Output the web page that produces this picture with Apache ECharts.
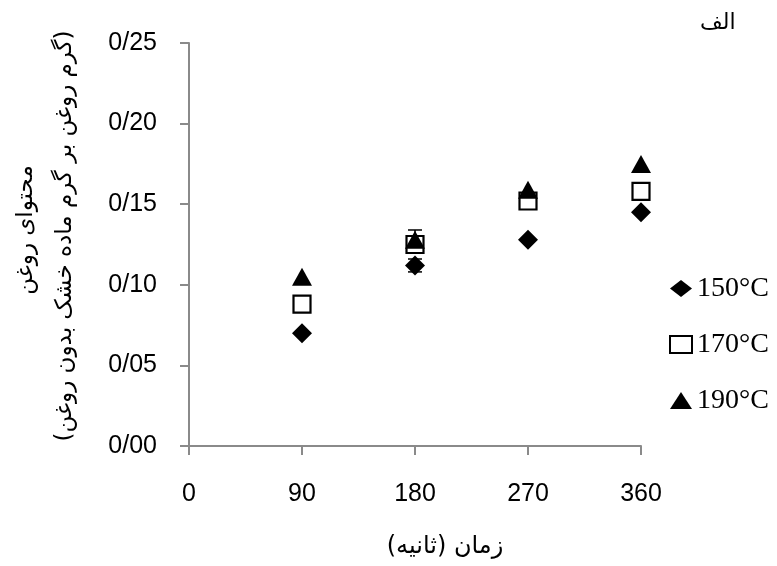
<!DOCTYPE html>
<html>
<head>
<meta charset="utf-8">
<script src="https://cdn.jsdelivr.net/npm/echarts@6/dist/echarts.min.js"></script>
<style>html,body{margin:0;padding:0;background:#fff}#c{width:777px;height:566px}</style>
</head>
<body>
<div id="c"></div>
<script>
var times = [90, 180, 270, 360];
var xTicks = [0, 90, 180, 270, 360];
var yTicks = [0, 0.05, 0.10, 0.15, 0.20, 0.25];
var seriesNames = ['150°C', '170°C', '190°C'];
var s150 = [0.070, 0.112, 0.128, 0.145];
var s170 = [0.088, 0.125, 0.152, 0.158];
var s190 = [0.105, 0.128, 0.159, 0.175];
var err150 = [0, 0.004, 0, 0];
var err170 = [0, 0.003, 0, 0];
var err190 = [0, 0.006, 0, 0];
var yTitle1 = 'محتوای روغن';
var yTitle2 = '(گرم روغن بر گرم ماده خشک بدون روغن)';
var xTitle = 'زمان (ثانیه)';
var panelTitle = 'الف';

var numFont = '"Liberation Sans Narrow", "Liberation Sans", Arial, sans-serif';
var faFont = '"DejaVu Sans", sans-serif';

function pts(vals) { return times.map(function (t, i) { return [t, vals[i]]; }); }
function errPts(vals, errs) { return times.map(function (t, i) { return [t, vals[i], errs[i]]; }); }

function errSeries(vals, errs) {
  return {
    type: 'custom', silent: true, z: 1,
    data: errPts(vals, errs),
    renderItem: function (params, api) {
      var x = api.value(0), y = api.value(1), e = api.value(2);
      if (!e) { return null; }
      var top = api.coord([x, y + e]);
      var bot = api.coord([x, y - e]);
      var w = 7;
      var st = { stroke: '#000', lineWidth: 1.5 };
      return { type: 'group', children: [
        { type: 'line', shape: { x1: top[0], y1: top[1], x2: bot[0], y2: bot[1] }, style: st },
        { type: 'line', shape: { x1: top[0] - w, y1: top[1], x2: top[0] + w, y2: top[1] }, style: st },
        { type: 'line', shape: { x1: bot[0] - w, y1: bot[1], x2: bot[0] + w, y2: bot[1] }, style: st }
      ]};
    }
  };
}

var chart = echarts.init(document.getElementById('c'));
chart.setOption({
  animation: false,
  backgroundColor: '#fff',
  grid: { left: 189, right: 136, top: 43, bottom: 120 },
  xAxis: {
    type: 'value', min: xTicks[0], max: xTicks[xTicks.length - 1], interval: 90,
    axisLine: { show: true, onZero: false, lineStyle: { color: '#8a8a8a', width: 2 } },
    axisTick: { show: true, length: 9, lineStyle: { color: '#8a8a8a', width: 2 } },
    splitLine: { show: false },
    axisLabel: { color: '#000', fontFamily: numFont, fontSize: 25, margin: 36 }
  },
  yAxis: {
    type: 'value', min: yTicks[0], max: yTicks[yTicks.length - 1], interval: 0.05,
    axisLine: { show: true, onZero: false, lineStyle: { color: '#8a8a8a', width: 2 } },
    axisTick: { show: true, length: 9, lineStyle: { color: '#8a8a8a', width: 2 } },
    splitLine: { show: false },
    axisLabel: { color: '#000', fontFamily: numFont, fontSize: 25, margin: 32,
      formatter: function (v) { return v.toFixed(2).replace('.', '/'); } }
  },
  legend: {
    orient: 'vertical', left: 664, top: 269,
    itemWidth: 22, itemHeight: 17, itemGap: 27,
    data: seriesNames,
    itemStyle: { opacity: 1 },
    textStyle: { color: '#000', fontFamily: '"Liberation Serif", serif', fontSize: 28, lineHeight: 29 }
  },
  graphic: [
    { type: 'text', left: 700, top: 12, style: { text: panelTitle, font: '22px ' + faFont, fill: '#000' } },
    { type: 'text', x: 445, y: 547, style: { text: xTitle, font: '24px ' + faFont, fill: '#000', align: 'center', verticalAlign: 'middle' } },
    { type: 'text', x: 26, y: 230, rotation: Math.PI / 2, style: { text: yTitle1, font: '23px ' + faFont, fill: '#000', align: 'center', verticalAlign: 'middle' } },
    { type: 'text', x: 65, y: 236, rotation: Math.PI / 2, style: { text: yTitle2, font: '23px ' + faFont, fill: '#000', align: 'center', verticalAlign: 'middle' } }
  ],
  series: [
    errSeries(s150, err150),
    errSeries(s170, err170),
    errSeries(s190, err190),
    { name: seriesNames[0], type: 'scatter', z: 2, symbol: 'diamond', symbolSize: 20, data: pts(s150),
      itemStyle: { color: '#000', opacity: 1 } },
    { name: seriesNames[1], type: 'scatter', z: 3, symbol: 'rect', symbolSize: 17, data: pts(s170),
      itemStyle: { color: '#fff', borderColor: '#000', borderWidth: 2.2, opacity: 1 } },
    { name: seriesNames[2], type: 'scatter', z: 4, symbol: 'triangle', symbolSize: [20, 18], data: pts(s190),
      itemStyle: { color: '#000', opacity: 1 } }
  ]
});
</script>
</body>
</html>
